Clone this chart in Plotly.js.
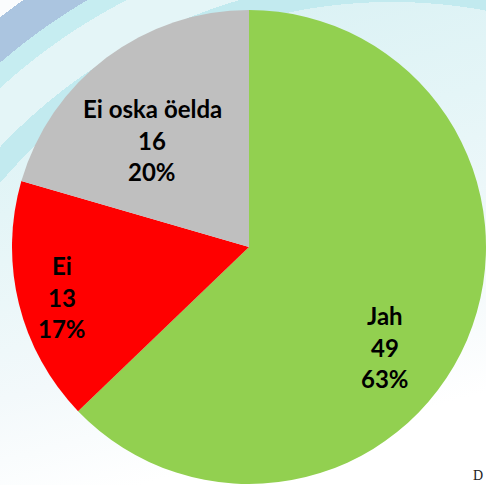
<!DOCTYPE html>
<html>
<head>
<meta charset="utf-8">
<script src="https://cdn.plot.ly/plotly-3.0.1.min.js"></script>
<style>
html,body{margin:0;padding:0;width:486px;height:485px;overflow:hidden;}
body{
  background:
    radial-gradient(circle at 392px 517px, rgba(255,255,255,0) 0 515px, #c2eaef 515px 539px, #e4f5f7 539px 581px, #c6edf1 581px 600px, #abc5e0 600px 635px, #fafcfd 635px),
    linear-gradient(165deg, #d6f0f3 0%, #e4f5f7 35%, #f3f9fb 65%, #ffffff 85%);
}
#chart{width:486px;height:485px;}
</style>
</head>
<body>
<div id="chart"></div>
<script>
const categories = ["Jah", "Ei", "Ei oska öelda"];
const values = [49, 13, 16];
const colors = ["#92d050", "#ff0000", "#bfbfbf"];
// label block centres (pixel layout positions for the data labels)
const labelPos = [[385, 347], [62, 297], [152, 140]];

const W = 486, H = 485;
const total = values.reduce((a, b) => a + b, 0);
// whole-number percentages that add up to 100 (largest remainder)
const raw = values.map(v => v / total * 100);
const pctNum = raw.map(Math.floor);
let left = 100 - pctNum.reduce((a, b) => a + b, 0);
raw.map((r, i) => [r - Math.floor(r), i]).sort((a, b) => b[0] - a[0])
   .forEach(([_, i]) => { if (left > 0) { pctNum[i] += 1; left--; } });
const pct = pctNum.map(p => p + "%");

const trace = {
  type: "pie",
  labels: categories,
  values: values,
  marker: {colors: colors, line: {width: 0}},
  sort: false,
  direction: "clockwise",
  rotation: 0,
  textinfo: "none",
  hoverinfo: "label+value+percent",
  domain: {x: [(249 - 237) / W, (249 + 237) / W], y: [(H - 247 - 237) / H, (H - 247 + 237) / H]},
  showlegend: false
};

const annotations = [];
categories.forEach((c, i) => {
  const lines = [c, String(values[i]), pct[i]];
  lines.forEach((t, j) => {
    annotations.push({
      x: labelPos[i][0] / W, y: 1 - labelPos[i][1] / H,
      xref: "paper", yref: "paper", xanchor: "center", yanchor: "middle",
      yshift: (1 - j) * 31.5,
      text: "<b>" + t + "</b>", showarrow: false,
      font: {family: "Lato, 'Open Sans', sans-serif", size: 24, color: "#000"}
    });
  });
});
annotations.push({
  x: 478 / W, y: 0, xref: "paper", yref: "paper",
  xanchor: "center", yanchor: "bottom", text: "D", showarrow: false,
  font: {family: "Liberation Serif, serif", size: 14, color: "#222"}
});

const layout = {
  width: W, height: H,
  margin: {l: 0, r: 0, t: 0, b: 0},
  paper_bgcolor: "rgba(0,0,0,0)",
  plot_bgcolor: "rgba(0,0,0,0)",
  shapes: [
    {type: "rect", xref: "paper", yref: "paper", x0: 468 / W, x1: 1, y0: 0, y1: 1 - 425 / H,
     fillcolor: "#ffffff", line: {width: 0}, layer: "below"}
  ],
  annotations: annotations
};

Plotly.newPlot("chart", [trace], layout, {displayModeBar: false, staticPlot: true});
</script>
</body>
</html>
